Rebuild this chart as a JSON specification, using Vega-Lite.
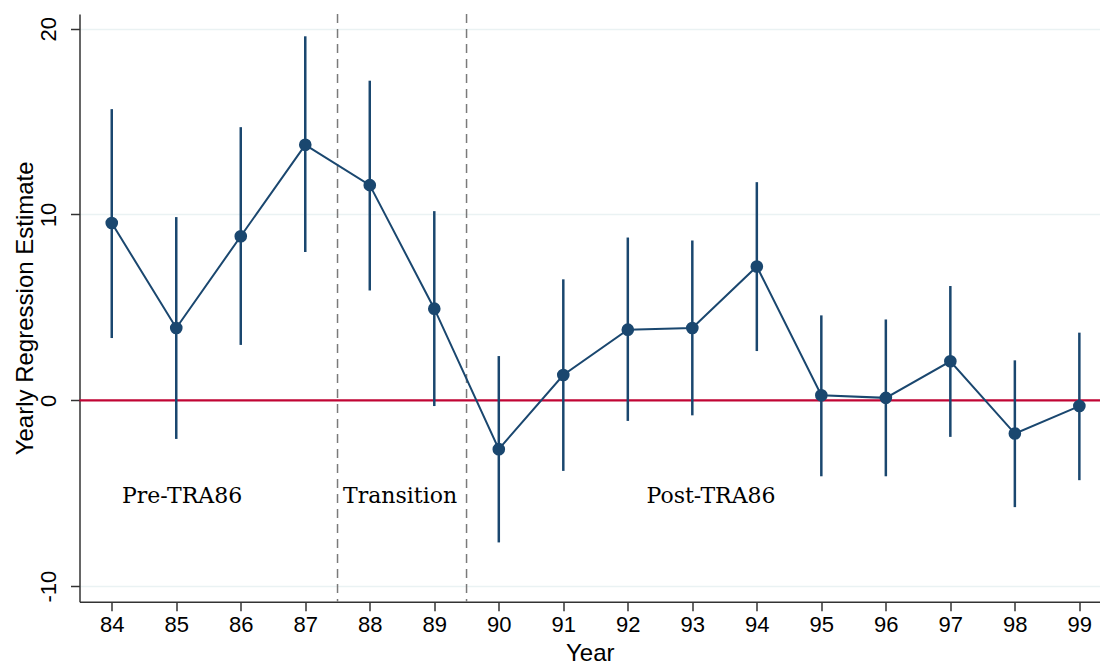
{
  "$schema": "https://vega.github.io/schema/vega-lite/v6.json",
  "autosize": "none",
  "width": 1020.5,
  "height": 587.7,
  "padding": {"left": 79.5, "top": 14, "right": 0, "bottom": 60.3},
  "background": "white",
  "config": {
    "view": {"stroke": null},
    "axis": {
      "domainColor": "#333333",
      "domainWidth": 1.5,
      "tickColor": "#333333",
      "tickWidth": 1.5,
      "tickSize": 9,
      "labelFont": "Liberation Sans",
      "labelFontSize": 22,
      "labelColor": "#000000",
      "titleFont": "Liberation Sans",
      "titleFontSize": 24,
      "titleFontWeight": "normal",
      "titleColor": "#000000",
      "gridColor": "#eaf2f3",
      "gridWidth": 1.5
    }
  },
  "datasets": {
    "est": [
      {"year": 84, "est": 9.54, "lo": 3.35, "hi": 15.67},
      {"year": 85, "est": 3.89, "lo": -2.08, "hi": 9.86},
      {"year": 86, "est": 8.83, "lo": 2.98, "hi": 14.7},
      {"year": 87, "est": 13.75, "lo": 7.98, "hi": 19.59},
      {"year": 88, "est": 11.58, "lo": 5.91, "hi": 17.2},
      {"year": 89, "est": 4.93, "lo": -0.31, "hi": 10.18},
      {"year": 90, "est": -2.63, "lo": -7.65, "hi": 2.38},
      {"year": 91, "est": 1.36, "lo": -3.8, "hi": 6.51},
      {"year": 92, "est": 3.8, "lo": -1.11, "hi": 8.76},
      {"year": 93, "est": 3.89, "lo": -0.81, "hi": 8.6},
      {"year": 94, "est": 7.2, "lo": 2.65, "hi": 11.74},
      {"year": 95, "est": 0.27, "lo": -4.09, "hi": 4.57},
      {"year": 96, "est": 0.13, "lo": -4.09, "hi": 4.35},
      {"year": 97, "est": 2.1, "lo": -1.97, "hi": 6.15},
      {"year": 98, "est": -1.79, "lo": -5.75, "hi": 2.15},
      {"year": 99, "est": -0.31, "lo": -4.3, "hi": 3.64}
    ],
    "periods": [
      {"label": "Pre-TRA86", "x": 85.09, "y": -5.15},
      {"label": "Transition", "x": 88.47, "y": -5.15},
      {"label": "Post-TRA86", "x": 93.29, "y": -5.15}
    ],
    "breaks": [{"x": 87.5}, {"x": 89.5}],
    "zero": [{"y": 0}]
  },
  "layer": [
    {
      "data": {"name": "est"},
      "mark": {"type": "point", "opacity": 0},
      "encoding": {
        "x": {
          "field": "year", "type": "quantitative", "title": "Year",
          "scale": {"domain": [83.5, 99.32], "nice": false, "zero": false},
          "axis": {"values": [84, 85, 86, 87, 88, 89, 90, 91, 92, 93, 94, 95, 96, 97, 98, 99], "labelExpr": "'' + datum.value", "grid": false, "labelPadding": 4, "titlePadding": 6}
        },
        "y": {
          "field": "est", "type": "quantitative", "title": "Yearly Regression Estimate",
          "scale": {"domain": [-10.84, 20.79], "nice": false, "zero": false},
          "axis": {"values": [-10, 0, 10, 20], "labelExpr": "'' + datum.value", "labelAngle": -90, "labelAlign": "center", "labelBaseline": "bottom", "labelPadding": 10, "titlePadding": 0}
        }
      }
    },
    {
      "data": {"name": "breaks"},
      "mark": {"type": "rule", "color": "#7a7a7a", "strokeWidth": 1.5, "strokeDash": [9, 6]},
      "encoding": {"x": {"field": "x", "type": "quantitative"}}
    },
    {
      "data": {"name": "zero"},
      "mark": {"type": "rule", "color": "#c10534", "strokeWidth": 2.2},
      "encoding": {"y": {"field": "y", "type": "quantitative"}}
    },
    {
      "data": {"name": "est"},
      "mark": {"type": "rule", "color": "#1a476f", "strokeWidth": 2.5},
      "encoding": {
        "x": {"field": "year", "type": "quantitative"},
        "y": {"field": "lo", "type": "quantitative"},
        "y2": {"field": "hi"}
      }
    },
    {
      "data": {"name": "est"},
      "mark": {"type": "line", "color": "#1a476f", "strokeWidth": 2},
      "encoding": {
        "x": {"field": "year", "type": "quantitative"},
        "y": {"field": "est", "type": "quantitative"}
      }
    },
    {
      "data": {"name": "est"},
      "mark": {"type": "point", "filled": true, "color": "#1a476f", "opacity": 1, "size": 160},
      "encoding": {
        "x": {"field": "year", "type": "quantitative"},
        "y": {"field": "est", "type": "quantitative"}
      }
    },
    {
      "data": {"name": "periods"},
      "mark": {"type": "text", "font": "DejaVu Serif", "fontSize": 22, "color": "#000000", "align": "center", "baseline": "middle"},
      "encoding": {
        "x": {"field": "x", "type": "quantitative"},
        "y": {"field": "y", "type": "quantitative"},
        "text": {"field": "label"}
      }
    }
  ]
}
